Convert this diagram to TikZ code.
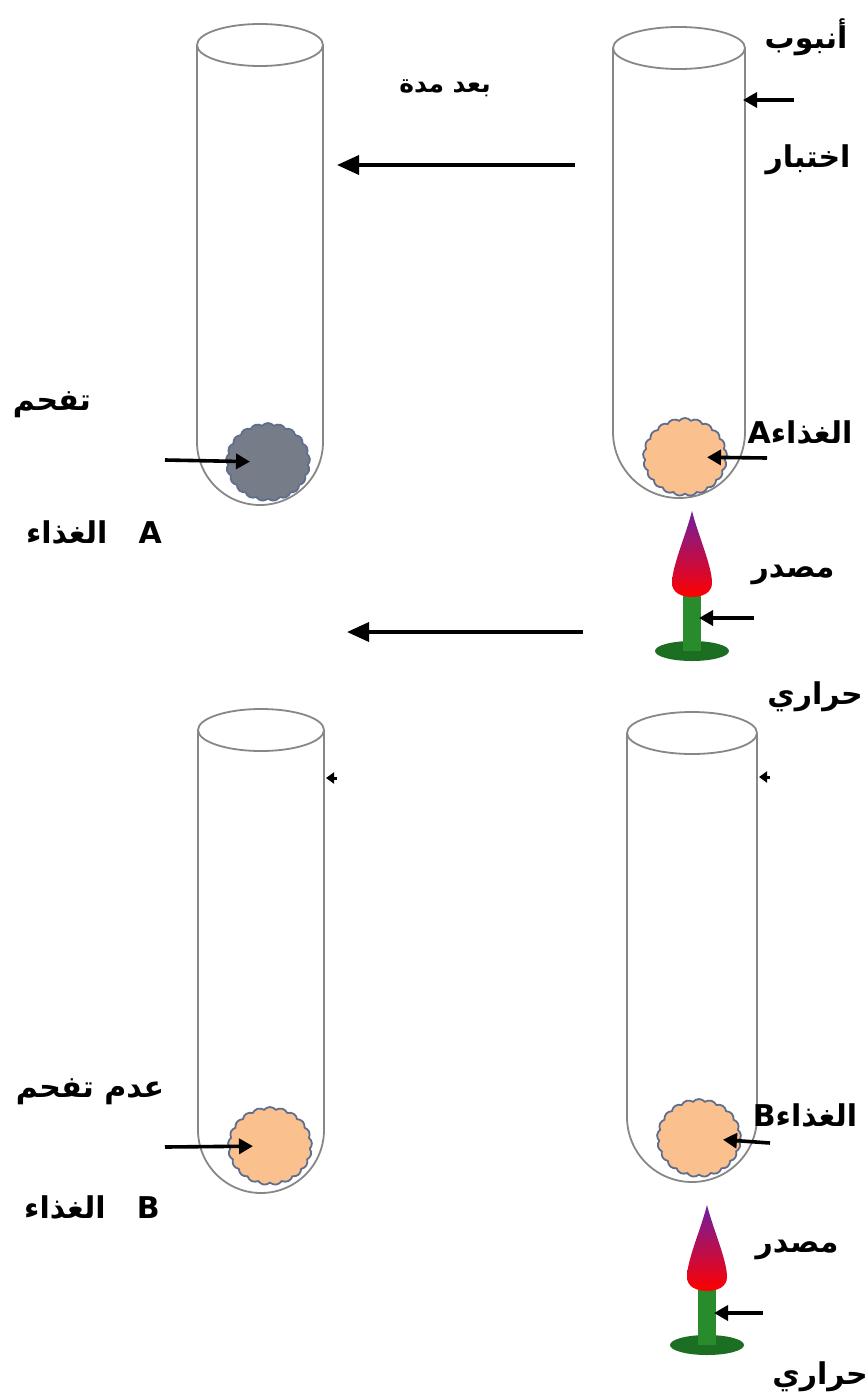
\documentclass[tikz,border=0pt]{standalone}
\usepackage{fontspec}
\usetikzlibrary{arrows.meta,shapes.symbols}
\newfontfamily\arabicfont[Script=Arabic]{DejaVu Sans}
\TeXXeTstate=1
\definecolor{peach}{RGB}{250,192,142}
\definecolor{charred}{RGB}{118,124,136}
\definecolor{rim}{RGB}{95,110,140}
\definecolor{glass}{RGB}{135,135,135}
\definecolor{flametop}{RGB}{112,30,160}
\definecolor{stemgreen}{RGB}{40,140,45}
\definecolor{basegreen}{RGB}{28,110,35}
\newcommand{\rtl}[1]{\beginR #1\endR}
% test tube: centre x, top y, bottom y, half width
\newcommand{\testtube}[4]{
  \draw[tube] (#1,#2) ellipse [x radius=#4, y radius=21];
  \draw[tube] (#1-#4,#2) -- (#1-#4,#3-#4) arc [start angle=180, end angle=0, x radius=#4, y radius=#4] -- (#1+#4,#2);
}
% burner: centre x, tip of the flame
\newcommand{\burner}[2]{
  \fill[basegreen] (#1,#2+140) ellipse [x radius=37, y radius=10];
  \fill[stemgreen] (#1-9,#2+80) rectangle (#1+9,#2+140);
  \shade[top color=flametop, middle color=purple!70!red, bottom color=red]
    (#1,#2) .. controls (#1+6,#2+24) and (#1+20,#2+55) .. (#1+20,#2+72)
    .. controls (#1+20,#2+82) and (#1+10,#2+86) .. (#1,#2+86)
    .. controls (#1-10,#2+86) and (#1-20,#2+82) .. (#1-20,#2+72)
    .. controls (#1-20,#2+55) and (#1-6,#2+24) .. (#1,#2);
}
\begin{document}
\begin{tikzpicture}[x=1pt,y=-1pt,
    tube/.style={draw=glass,line width=1.8pt},
    food/.style={cloud,cloud puffs=21,cloud puff arc=100,aspect=1.05,draw=rim,line width=1.8pt,
      fill=peach,minimum width=84pt,minimum height=78pt,inner sep=0pt},
    pointer/.style={-{Triangle[length=14pt,width=15pt]},line width=3.6pt},
    bigarrow/.style={-{Triangle[length=22pt,width=19pt]},line width=3.6pt},
    tick/.style={-{Triangle[length=8pt,width=11pt]},line width=3pt},
    lbl/.style={inner sep=0pt,font=\arabicfont\bfseries\fontsize{30}{30}\selectfont}]
  \useasboundingbox[fill=white] (0,0) rectangle (866,1397);

  \testtube{260}{45}{505}{63}
  \testtube{679}{48}{498}{66}
  \testtube{261}{730}{1193}{63}
  \testtube{692}{733}{1182}{65}
  \burner{692}{511}
  \burner{707}{1205}

  \node[food,fill=charred] (charA) at (268,462) {};
  \node[food] (foodA) at (685,457) {};
  \node[food] (foodB) at (270,1146) {};
  \node[food] (heatB) at (699,1138) {};

  \draw
    (806,37) node[lbl] (tube1){\rtl{أنبوب}}
    (808,160) node[lbl] (tube2){\rtl{اختبار}}
    (445,88) node[lbl,font=\arabicfont\bfseries\fontsize{25}{25}\selectfont] (later){\rtl{بعد مدة}}
    (52,405) node[lbl] (burnt){\rtl{تفحم}}
    (94,533) node[lbl] (nameA){\rtl{A\ \ \ الغذاء}}
    (800,433) node[lbl] (foodAlbl){\rtl{Aالغذاء}}
    (793,575) node[lbl] (src1){\rtl{مصدر}}
    (815,697) node[lbl] (heat1){\rtl{حراري}}
    (90,1092) node[lbl] (notburnt){\rtl{عدم تفحم}}
    (92,1207) node[lbl] (nameB){\rtl{B\ \ \ الغذاء}}
    (805,1115) node[lbl] (foodBlbl){\rtl{Bالغذاء}}
    (797,1250) node[lbl] (src2){\rtl{مصدر}}
    (820,1377) node[lbl] (heat2){\rtl{حراري}};

  \coordinate (s1) at (575,165);  \coordinate (e1) at (337,165);
  \coordinate (s2) at (583,632);  \coordinate (e2) at (347,632);
  \coordinate (t1) at (794,100);  \coordinate (w1) at (743,100);
  \coordinate (t2) at (165,460);
  \coordinate (t3) at (767,458);
  \coordinate (t4) at (754,618);  \coordinate (w4) at (699,618);
  \coordinate (t5) at (165,1147);
  \coordinate (t6) at (770,1143);
  \coordinate (t7) at (763,1313); \coordinate (w7) at (714,1313);
  \coordinate (m1) at (337,778);  \coordinate (n1) at (326,778);
  \coordinate (m2) at (770,777);  \coordinate (n2) at (759,777);

  \begin{scope}
    \draw[bigarrow] (s1) to (e1);
    \draw[bigarrow] (s2) to (e2);
    \draw[pointer] (t1) to (w1);
    \draw[pointer,shorten >=18pt] (t2) to (charA.center);
    \draw[pointer,shorten >=22pt] (t3) to (foodA.center);
    \draw[pointer] (t4) to (w4);
    \draw[pointer,shorten >=17pt] (t5) to (foodB.center);
    \draw[pointer,shorten >=24pt] (t6) to (heatB.center);
    \draw[pointer] (t7) to (w7);
    \draw[tick] (m1) to (n1);
    \draw[tick] (m2) to (n2);
  \end{scope}
\end{tikzpicture}
\end{document}
